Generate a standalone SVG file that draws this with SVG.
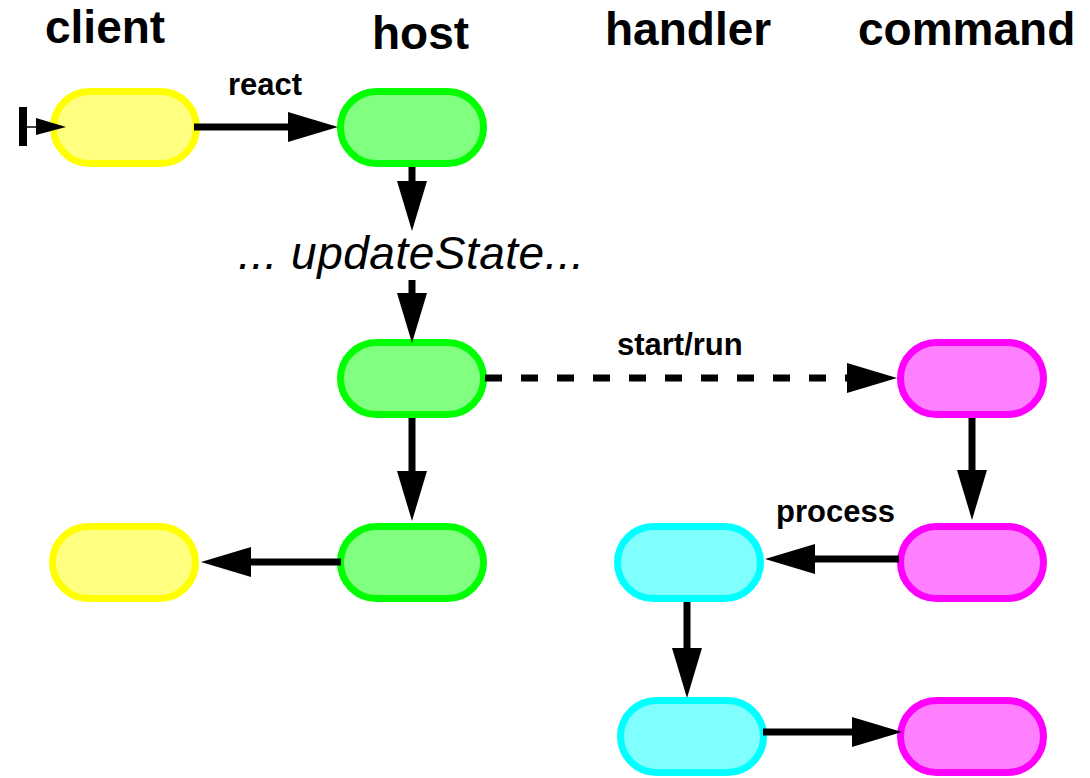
<svg xmlns="http://www.w3.org/2000/svg" width="1090" height="778" viewBox="0 0 1090 778">
<style>
  .hdr { font-family: "Liberation Sans", Arial, sans-serif; font-weight: bold; font-size: 46px; fill: #000; }
  .lbl { font-family: "Liberation Sans", Arial, sans-serif; font-weight: bold; font-size: 31px; fill: #000; }
  .ital { font-family: "Liberation Sans", Arial, sans-serif; font-style: italic; font-size: 46px; fill: #000; }
  .node { stroke-width: 7; }
  .client { fill: #ffff80; stroke: #ffff00; }
  .host { fill: #80ff80; stroke: #00ff00; }
  .cmd { fill: #ff80ff; stroke: #ff00ff; }
  .handler { fill: #80ffff; stroke: #00ffff; }
  .edge { fill: none; stroke: #000; stroke-width: 7; marker-end: url(#ah); }
  .dash { stroke-dasharray: 17 19; }
</style>
<defs>
  <marker id="ah" markerUnits="userSpaceOnUse" viewBox="0 0 50 30" markerWidth="50" markerHeight="30" refX="0" refY="15" orient="auto">
    <path d="M0,0 L50,15 L0,30 Z" fill="#000" stroke="none"/>
  </marker>
</defs>

<g id="headers">
  <text class="hdr" x="45" y="43">client</text>
  <text class="hdr" x="372" y="49">host</text>
  <text class="hdr" x="605" y="45">handler</text>
  <text class="hdr" x="858" y="45">command</text>
</g>

<g id="client1"><rect class="node client" x="53.5" y="91.5" width="143" height="72" rx="36"/></g>
<g id="host1"><rect class="node host" x="340.5" y="91.5" width="143" height="72" rx="36"/></g>
<g id="host2"><rect class="node host" x="340.5" y="342.5" width="143" height="72" rx="36"/></g>
<g id="cmd1"><rect class="node cmd" x="900.5" y="342.5" width="143" height="72" rx="36"/></g>
<g id="client2"><rect class="node client" x="52.5" y="526.5" width="143" height="72" rx="36"/></g>
<g id="host3"><rect class="node host" x="340.5" y="526.5" width="143" height="72" rx="36"/></g>
<g id="handler1"><rect class="node handler" x="617.5" y="526.5" width="143" height="72" rx="36"/></g>
<g id="cmd2"><rect class="node cmd" x="900.5" y="526.5" width="143" height="72" rx="36"/></g>
<g id="handler2"><rect class="node handler" x="620.5" y="700.5" width="143" height="72" rx="36"/></g>
<g id="cmd3"><rect class="node cmd" x="900.5" y="700.5" width="143" height="72" rx="36"/></g>

<g id="start">
  <rect x="19" y="107" width="8" height="39" fill="#000"/>
  <line x1="27" y1="127" x2="37" y2="127" stroke="#000" stroke-width="1.5"/>
  <path d="M36,118 L66,127 L36,135 Z" fill="#000"/>
</g>

<g id="connectors">
  <path class="edge" d="M194,127 H288"/>
  <path class="edge" d="M412,167 V181"/>
  <path class="edge" d="M412,280 V293"/>
  <path class="edge dash" d="M485,378 H847"/>
  <path class="edge" d="M412,418 V471"/>
  <path class="edge" d="M341,562 H251"/>
  <path class="edge" d="M972,418 V470"/>
  <path class="edge" d="M899,559 H815"/>
  <path class="edge" d="M687,602 V648"/>
  <path class="edge" d="M763,732 H852"/>
  <text class="lbl" x="228" y="95">react</text>
  <text class="lbl" x="617" y="355">start/run</text>
  <text class="lbl" x="776" y="522">process</text>
  <text class="ital" x="238" y="269" textLength="346">... updateState...</text>
</g>
</svg>
